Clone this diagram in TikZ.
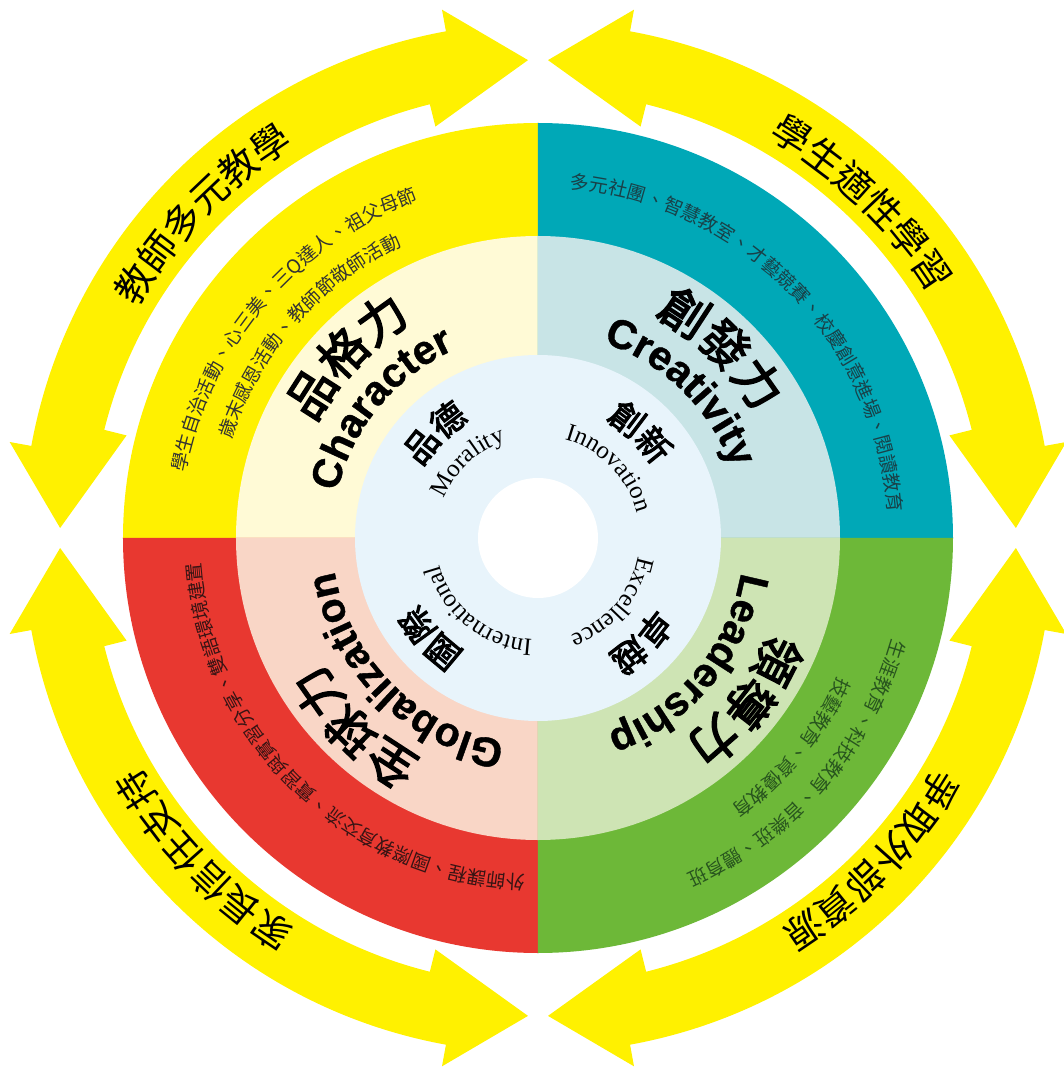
\documentclass[tikz,border=0pt]{standalone}
\usepackage{fontspec}
\setmainfont{Liberation Serif}
\newfontfamily\cjk{Noto Sans CJK TC}
\newfontfamily\cjkb{Noto Sans CJK TC}[FakeBold=3]
\newfontfamily\headfont{Liberation Sans}[FakeBold=1]
\usetikzlibrary{decorations.text}

\definecolor{arrowyellow}{RGB}{255,241,0}
\definecolor{charyellow}{RGB}{255,241,0}
\definecolor{charcream}{RGB}{255,250,214}
\definecolor{creteal}{RGB}{0,168,183}
\definecolor{crelight}{RGB}{200,228,230}
\definecolor{globred}{RGB}{232,56,48}
\definecolor{globpink}{RGB}{249,214,198}
\definecolor{leadgreen}{RGB}{109,184,56}
\definecolor{leadlight}{RGB}{206,228,180}
\definecolor{coreblue}{RGB}{232,244,251}
\definecolor{tealtext}{RGB}{25,65,72}
\definecolor{redtext}{RGB}{55,20,20}
\definecolor{greentext}{RGB}{40,85,30}

% text set clockwise on an arc: centre angle, baseline radius, size, font, text
\newcommand{\ringtext}[5]{%
  \path[decorate,decoration={text along path,text align=center,
      text={|\fontsize{#3}{#3}\selectfont#4|#5}}]
    (#1+44:#2) arc[start angle=#1+44,end angle=#1-44,radius=#2];}

\begin{document}
\begin{tikzpicture}
\useasboundingbox (-538pt,-530pt) rectangle (525pt,538pt);

\foreach \a/\outer/\inner in {90/charyellow/charcream,0/creteal/crelight,
                              180/globred/globpink,270/leadgreen/leadlight}
{
  \fill[\outer] (0,0) -- (\a:415pt) arc[start angle=\a,delta angle=90,radius=415pt] -- cycle;
  \fill[\inner] (0,0) -- (\a:302pt) arc[start angle=\a,delta angle=90,radius=302pt] -- cycle;
}
\fill[coreblue] (0,0) circle[radius=183pt];
\fill[white] (0,0) circle[radius=60pt];

\foreach \b in {0,90,180,270}
  \fill[arrowyellow] (\b+1.2:478pt) -- (\b+10.3:537pt) -- (\b+10.3:515pt)
    arc[start angle=\b+10.3,end angle=\b+79.7,radius=515pt]
    -- (\b+79.7:537pt) -- (\b+88.8:478pt) -- (\b+76:424pt) -- (\b+76:447pt)
    arc[start angle=\b+76,end angle=\b+14,radius=447pt]
    -- (\b+14:424pt) -- cycle;

\ringtext{136}{462pt}{38pt}{\cjk}{教師多元教學}
\ringtext{46}{462pt}{38pt}{\cjk}{學生適性學習}
\ringtext{224}{460pt}{38pt}{\cjk}{家長信任支持}
\ringtext{-44}{460pt}{38pt}{\cjk}{爭取外部資源}

\ringtext{139.5}{358pt}{19pt}{\cjk\color{black!80}}{學生自治活動、心三美、三Q達人、祖父母節}
\ringtext{138.6}{322pt}{19pt}{\cjk\color{black!80}}{歲末感恩活動、教師節敬師活動}
\ringtext{44.5}{351pt}{19pt}{\cjk\color{tealtext}}{多元社團、智慧教室、才藝競賽、校慶創意進場、閱讀教育}
\ringtext{226}{338pt}{19pt}{\cjk\color{redtext}}{外師課程、國際教育交流、實習與實習分享、雙語環境建置}
\ringtext{-41}{368pt}{19pt}{\cjk\color{greentext}}{生涯教育、科技教育、音樂班、體育班}
\ringtext{-39.5}{331pt}{19pt}{\cjk\color{greentext}}{技藝教育、資優教育}

\ringtext{136.5}{251pt}{48pt}{\cjkb}{品格力}
\ringtext{46}{251pt}{48pt}{\cjkb}{創發力}
\ringtext{226}{251pt}{48pt}{\cjkb}{全球力}
\ringtext{-38}{251pt}{48pt}{\cjkb}{領導力}
\ringtext{140.5}{206pt}{41pt}{\headfont\bfseries}{Character}
\ringtext{45.7}{206pt}{41pt}{\headfont\bfseries}{Creativity}
\ringtext{225}{206pt}{41pt}{\headfont\bfseries}{Globalization}
\ringtext{-40}{206pt}{41pt}{\headfont\bfseries}{Leadership}

\ringtext{134.5}{136pt}{34pt}{\cjkb}{品德}
\ringtext{46}{136pt}{34pt}{\cjkb}{創新}
\ringtext{223}{136pt}{34pt}{\cjkb}{國際}
\ringtext{-45}{136pt}{34pt}{\cjkb}{卓越}
\ringtext{133}{102pt}{25pt}{\rmfamily}{Morality}
\ringtext{44.5}{102pt}{25pt}{\rmfamily}{Innovation}
\ringtext{231}{102pt}{25pt}{\rmfamily}{International}
\ringtext{-41}{102pt}{25pt}{\rmfamily}{Excellence}
\end{tikzpicture}
\end{document}
